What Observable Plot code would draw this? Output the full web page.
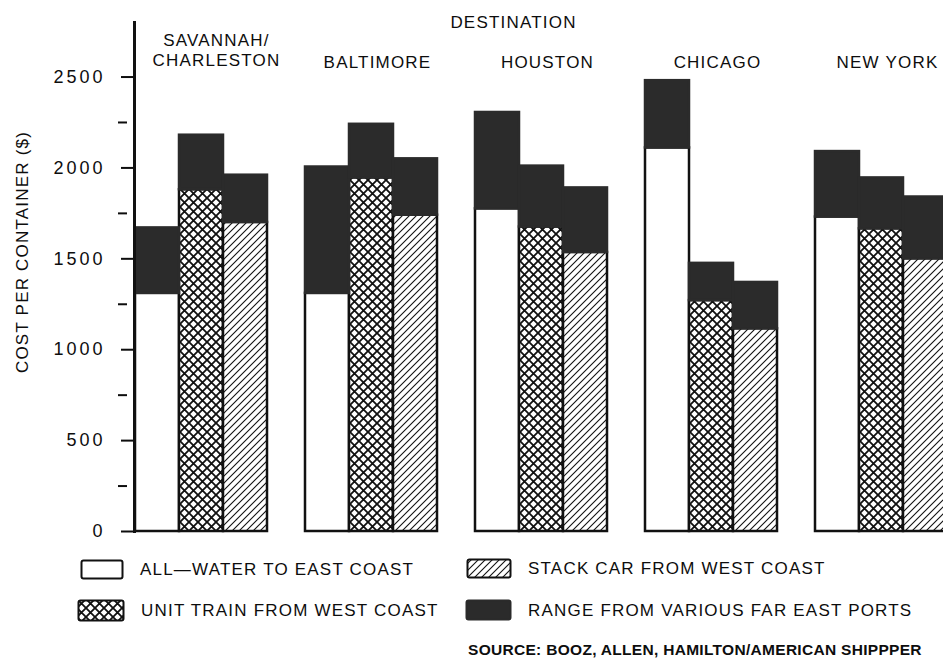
<!DOCTYPE html>
<html>
<head>
<meta charset="utf-8">
<script src="https://cdn.jsdelivr.net/npm/d3@7"></script>
<script src="https://cdn.jsdelivr.net/npm/@observablehq/plot@0.6"></script>
<style>
  html, body { margin: 0; padding: 0; background: #fff; overflow: hidden; }
  #wrap { position: relative; width: 943px; height: 666px; overflow: hidden;
          font-family: "Liberation Sans", Arial, sans-serif; color: #0d0d0d; }
  #chart { position: absolute; left: 0; top: 0; }
  #chart g[aria-label="y-axis tick label"] text { letter-spacing: 3px; }
  #chart g[aria-label="y-axis title"] text { letter-spacing: 0.7px; }
  .leg { position: absolute; display: flex; align-items: center; white-space: nowrap;
         font-size: 17px; letter-spacing: 1.2px; line-height: 1; }
  .leg svg { display: block; margin-right: 16px; }
  #source { position: absolute; left: 468px; top: 642px; font-size: 15.5px; font-weight: bold;
            letter-spacing: 0.3px; white-space: nowrap; line-height: 1; }
</style>
</head>
<body>
<!-- shared fill patterns for the bars and the legend swatches -->
<svg width="0" height="0" style="position:absolute">
  <defs>
    <pattern id="crosshatch" patternUnits="userSpaceOnUse" width="9" height="9">
      <rect width="9" height="9" fill="#fff"/>
      <path d="M-2,-2L11,11M11,-2L-2,11" stroke="#111" stroke-width="1.8"/>
    </pattern>
    <pattern id="diagonal" patternUnits="userSpaceOnUse" width="7" height="7">
      <rect width="7" height="7" fill="#fff"/>
      <path d="M-2,9L9,-2M-2,2L2,-2M5,9L9,5" stroke="#111" stroke-width="1.1"/>
    </pattern>
  </defs>
</svg>
<div id="wrap">
  <div id="chart"></div>
</div>
<script>
// Destinations (facets) and the three inland routing modes
const cities = ["SAVANNAH/\nCHARLESTON", "BALTIMORE", "HOUSTON", "CHICAGO", "NEW YORK"];
const modes = ["ALL—WATER TO EAST COAST", "UNIT TRAIN FROM WEST COAST", "STACK CAR FROM WEST COAST"];
const rangeLabel = "RANGE FROM VARIOUS FAR EAST PORTS";

// Cost per container ($): low end and high end of the range, per destination
const allWaterLow   = [1310, 1310, 1775, 2110, 1730];
const allWaterHigh  = [1670, 2005, 2305, 2480, 2090];
const unitTrainLow  = [1880, 1945, 1675, 1270, 1665];
const unitTrainHigh = [2180, 2240, 2010, 1475, 1945];
const stackCarLow   = [1700, 1740, 1535, 1115, 1500];
const stackCarHigh  = [1960, 2050, 1890, 1370, 1840];

const majorTicks = [0, 500, 1000, 1500, 2000, 2500];
const minorTicks = [250, 750, 1250, 1750, 2250];

const yLabel = "COST PER CONTAINER ($)";
const title = "DESTINATION";
const sourceText = "SOURCE: BOOZ, ALLEN, HAMILTON/AMERICAN SHIPPPER";

// Long table: one row per destination and mode
const lows = [allWaterLow, unitTrainLow, stackCarLow];
const highs = [allWaterHigh, unitTrainHigh, stackCarHigh];
const rows = cities.flatMap((city, i) =>
  modes.map((mode, j) => ({city, mode, low: lows[j][i], high: highs[j][i]})));

const modeFill = new Map([
  [modes[0], "#ffffff"],
  [modes[1], "url(#crosshatch)"],
  [modes[2], "url(#diagonal)"]
]);
const dark = "#2b2b2b";
const ink = "#111";

const chart = Plot.plot({
  width: 943,
  height: 540,
  marginLeft: 134,
  marginRight: -5,
  marginTop: 22,
  marginBottom: 9,
  style: {
    fontFamily: "'Liberation Sans', Arial, sans-serif",
    fontSize: "17px",
    color: "#0d0d0d",
    background: "transparent",
    overflow: "hidden",
    letterSpacing: "1.2px"
  },
  fx: {domain: cities, paddingInner: 0.212, paddingOuter: 0, axis: null, label: null},
  x: {domain: modes, padding: 0, axis: null},
  y: {domain: [0, 2800], axis: null},
  color: {type: "identity"},
  marks: [
    // base cost of each mode
    Plot.barY(rows, {fx: "city", x: "mode", y1: 0, y2: "low",
      fill: d => modeFill.get(d.mode), stroke: ink, strokeWidth: 2.5}),
    // range across Far East origin ports
    Plot.barY(rows, {fx: "city", x: "mode", y1: "low", y2: "high",
      fill: dark, stroke: dark, strokeWidth: 2.5}),
    // y axis: labelled ticks, minor ticks, axis line
    Plot.axisY({ticks: majorTicks, tickSize: 13, tickPadding: 16, tickFormat: "d",
      label: null, strokeWidth: 2, fontSize: 18}),
    Plot.axisY({ticks: minorTicks, tickSize: 9, dx: -7, text: null, label: null, strokeWidth: 2}),
    Plot.frame({anchor: "left", facetAnchor: "left", strokeWidth: 3, stroke: ink}),
    Plot.text([yLabel], {text: d => d, frameAnchor: "left", textAnchor: "middle",
      rotate: -90, dx: -112, dy: -25, facetAnchor: "left", fontSize: 17,
      ariaLabel: "y-axis title"}),
    // destination names above each group
    Plot.text(cities.slice(1), {fx: d => d, text: d => d, frameAnchor: "top",
      lineAnchor: "bottom", dx: 6, dy: 45, fontSize: 17}),
    Plot.text(cities.slice(0, 1), {fx: d => d, text: d => d, frameAnchor: "top",
      lineAnchor: "bottom", dx: 15, dy: 43, fontSize: 17, lineHeight: 1.15}),
    Plot.text([title], {text: d => d, frameAnchor: "top", lineAnchor: "middle",
      facet: "super", dx: -28, dy: 0, fontSize: 17})
  ]
});
document.getElementById("chart").appendChild(chart);

// Legend below the plot
const wrap = document.getElementById("wrap");
const swatches = [
  {label: modes[0], fill: "#ffffff", left: 80, top: 559, w: 44, h: 21},
  {label: modes[1], fill: "url(#crosshatch)", left: 77, top: 599, w: 48, h: 23},
  {label: modes[2], fill: "url(#diagonal)", left: 466, top: 558, w: 46, h: 21},
  {label: rangeLabel, fill: dark, left: 465, top: 599, w: 47, h: 22}
];
for (const s of swatches) {
  const div = document.createElement("div");
  div.className = "leg";
  div.style.left = s.left + "px";
  div.style.top = s.top + "px";
  div.style.height = s.h + "px";
  const stroke = s.fill === dark ? dark : ink;
  div.innerHTML = `<svg width="${s.w}" height="${s.h}"><rect x="1.5" y="1.5" width="${s.w - 3}" height="${s.h - 3}" rx="2" fill="${s.fill}" stroke="${stroke}" stroke-width="2"/></svg><span>${s.label}</span>`;
  wrap.appendChild(div);
}
const src = document.createElement("div");
src.id = "source";
src.textContent = sourceText;
wrap.appendChild(src);
</script>
</body>
</html>
